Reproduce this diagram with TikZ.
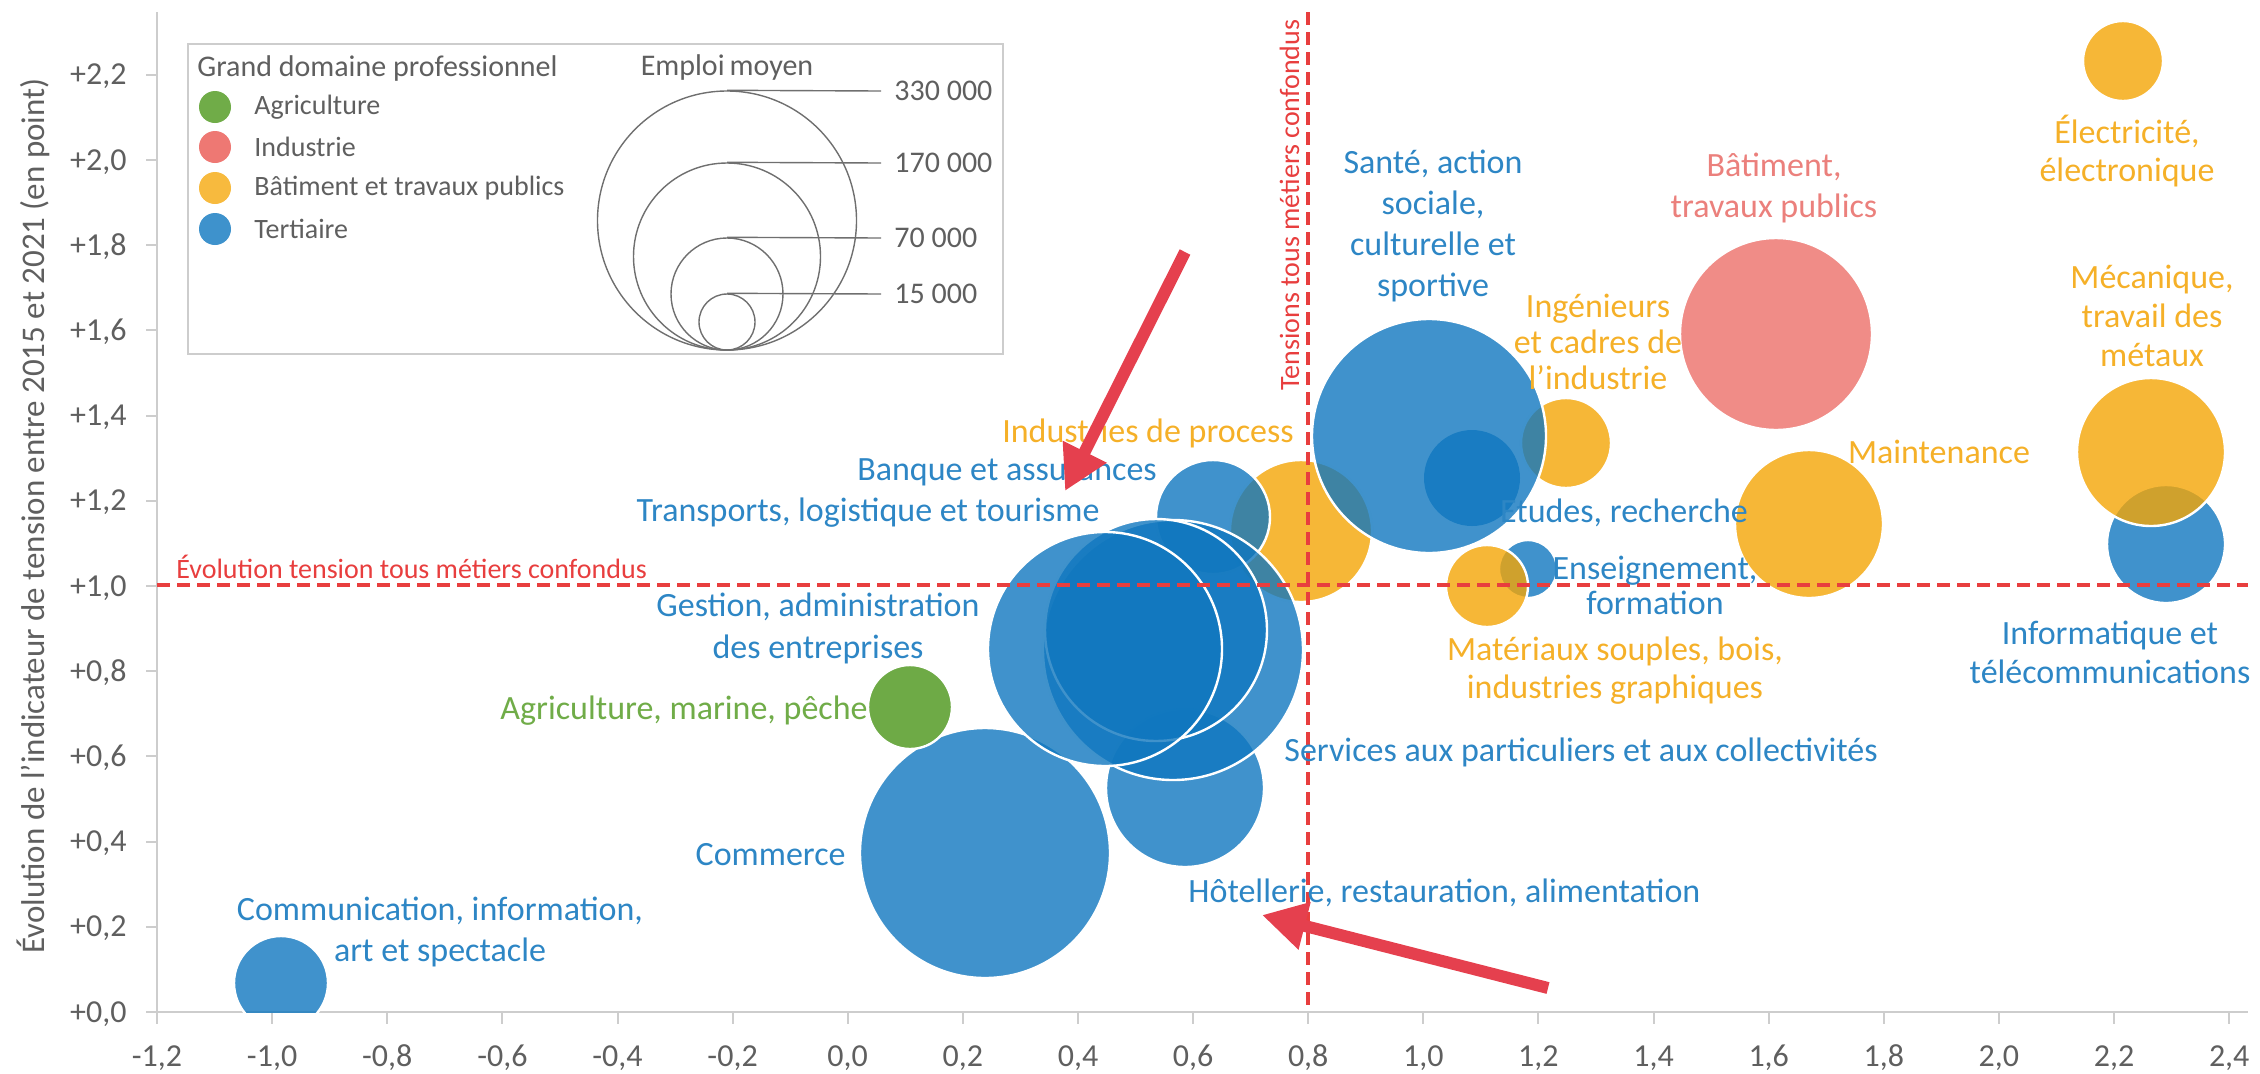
\documentclass[tikz,border=0pt]{standalone}
\usepackage{fontspec}
\setmainfont{Carlito}
\usetikzlibrary{arrows.meta}
\definecolor{cblue}{RGB}{16,119,191}
\definecolor{cyel}{RGB}{244,165,5}
\definecolor{cred}{RGB}{236,111,105}
\definecolor{cgreen}{RGB}{74,149,24}
\definecolor{tblue}{RGB}{45,134,197}
\definecolor{tyel}{RGB}{245,176,40}
\definecolor{tred}{RGB}{235,128,124}
\definecolor{tgreen}{RGB}{112,172,72}
\definecolor{tgrey}{RGB}{95,95,95}
\definecolor{dashred}{RGB}{232,62,62}
\definecolor{arrred}{RGB}{229,64,78}
\definecolor{axgrey}{RGB}{205,205,205}
\definecolor{lgreen}{RGB}{112,172,72}
\definecolor{lred}{RGB}{238,120,115}
\definecolor{lyel}{RGB}{247,186,62}
\definecolor{lblue}{RGB}{62,146,204}
\begin{document}
\begin{tikzpicture}[x=0.5pt,y=-0.5pt,
  bub/.style={circle, inner sep=0pt, draw=white, line width=1.2pt, fill opacity=0.8},
  bb/.style={bub, fill=cblue},
  by/.style={bub, fill=cyel},
  br/.style={bub, fill=cred},
  bg/.style={bub, fill=cgreen},
  lab/.style={inner sep=0pt, align=center, font=\fontsize{17}{#1}\selectfont},
  lab/.default={20.5},
  ticklab/.style={inner sep=0pt, text=tgrey, font=\fontsize{16}{19}\selectfont},
  legtxt/.style={inner sep=0pt, text=tgrey, font=\fontsize{14}{17}\selectfont, anchor=west},
  legdot/.style={circle, inner sep=0pt, minimum size=16pt},
  sizecirc/.style={circle, inner sep=0pt, draw=tgrey!90, line width=0.7pt},
  axisline/.style={draw=axgrey, line width=1pt},
  refline/.style={draw=dashred, line width=2pt, dash pattern=on 6.5pt off 3.5pt},
  reflab/.style={inner sep=0pt, text=dashred, font=\fontsize{14}{17}\selectfont},
  annot/.style={draw=arrred, line width=6pt, -{Triangle[length=22pt,width=23pt]}}
]
\useasboundingbox (0,0) rectangle (2260,1073);

% ---------- axes ----------
\coordinate (origin) at (157,1012);
\coordinate (ytop) at (157,12);
\coordinate (xend) at (2248,1012);
\draw[axisline] (ytop) -- (origin) -- (xend);
\foreach \yy/\t in {1012/{+0,0},926.8/{+0,2},841.6/{+0,4},756.4/{+0,6},671.2/{+0,8},586/{+1,0},500.8/{+1,2},415.6/{+1,4},330.4/{+1,6},245.2/{+1,8},160/{+2,0},74.8/{+2,2}}{
  \draw[axisline] (146,\yy) -- (157,\yy);
  \node[ticklab, anchor=base east] at (127,\yy+10) {\t};
}
\foreach \xx/\t in {157/{-1,2},272.1/{-1,0},387.2/{-0,8},502.4/{-0,6},617.5/{-0,4},732.6/{-0,2},847.7/{0,0},962.8/{0,2},1078/{0,4},1193.1/{0,6},1308.2/{0,8},1423.3/{1,0},1538.4/{1,2},1653.6/{1,4},1768.7/{1,6},1883.8/{1,8},1998.9/{2,0},2114/{2,2},2229.2/{2,4}}{
  \draw[axisline] (\xx,1012) -- (\xx,1024);
  \node[ticklab, anchor=base] at (\xx,1066) {\t};
}
\node[inner sep=0pt, text=tgrey, rotate=90, font=\fontsize{16.5}{19}\selectfont] (ytitle) at (33,516)
  {Évolution de l'indicateur de tension entre 2015 et 2021 (en point)};

% ---------- bubbles ----------
\begin{scope}
\clip (157,0) rectangle (2260,1012);
\node[bb, minimum size=47pt]  (bcomm) at (281,983) {};
\node[bb, minimum size=125pt] (bcommerce) at (985,853) {};
\node[bg, minimum size=42pt]  (bagri) at (910,707) {};
\node[bb, minimum size=79pt]  (bhot) at (1185,788) {};
\node[by, minimum size=71pt]  (bindus) at (1301,531) {};
\node[bb, minimum size=57pt]  (bbanq) at (1213,517) {};
\node[bb, minimum size=130pt] (bserv) at (1173,650) {};
\node[bb, minimum size=111pt] (btrans) at (1156,630) {};
\node[bb, minimum size=117pt] (bgest) at (1105,649) {};
\node[by, minimum size=45pt]  (bing) at (1566,443) {};
\node[bb, minimum size=117pt] (bsante) at (1429,436) {};
\node[bb, minimum size=48pt, draw=none]  (betud) at (1472,478) {};
\node[bb, minimum size=29pt]  (bens) at (1528,569) {};
\node[by, minimum size=41pt]  (bmat) at (1487,586) {};
\node[br, minimum size=96pt]  (bbat) at (1776,334) {};
\node[by, minimum size=74pt]  (bmaint) at (1809,524) {};
\node[by, minimum size=40pt]  (belec) at (2123,61) {};
\node[bb, minimum size=59pt]  (binfo) at (2166,544) {};
\node[by, minimum size=74pt]  (bmeca) at (2151,452) {};
\end{scope}

% ---------- reference lines ----------
\coordinate (hl1) at (157,585);
\coordinate (hl2) at (2248,585);
\coordinate (vl1) at (1308.2,12);
\coordinate (vl2) at (1308.2,1012);
\draw[refline] (hl1) -- (hl2);
\draw[refline] (vl1) -- (vl2);
\node[reflab, anchor=base west] (hlab) at (176,578) {Évolution tension tous métiers confondus};
\node[reflab, rotate=90, anchor=base] (vlab) at (1299,205) {Tensions tous métiers confondus};

% ---------- labels ----------
\node[lab, text=tblue] (lcomm) at (440,932) {Communication, information,\\art et spectacle};
\node[lab, text=tgreen, anchor=east] (lagri) at (868,711) {Agriculture, marine, pêche};
\node[lab={21}, text=tblue] (lgest) at (818,628) {Gestion, administration\\des entreprises};
\node[lab, text=tblue, anchor=east] (ltrans) at (1100,513) {Transports, logistique et tourisme};
\node[lab, text=tblue] (lbanq) at (1007,472) {Banque et assurances};
\node[lab, text=tyel] (lindus) at (1148,433) {Industries de process};
\node[lab, text=tblue] (lsante) at (1433,226) {Santé, action\\sociale,\\culturelle et\\sportive};
\node[lab={18}, text=tyel] (ling) at (1598,342) {Ingénieurs\\et cadres de\\l'industrie};
\node[lab, text=tred] (lbat) at (1774,188) {Bâtiment,\\travaux publics};
\node[lab={19}, text=tyel] (lelec) at (2127,151) {Électricité,\\électronique};
\node[lab={19.5}, text=tyel] (lmeca) at (2152,316) {Mécanique,\\travail des\\métaux};
\node[lab, text=tyel] (lmaint) at (1939,452) {Maintenance};
\node[lab, text=tblue] (letud) at (1624,513) {Etudes, recherche};
\node[lab={17.5}, text=tblue] (lens) at (1655,585) {Enseignement,\\formation};
\node[lab={19}, text=tyel] (lmat) at (1615,671) {Matériaux souples, bois,\\industries graphiques};
\node[lab={19.5}, text=tblue] (linfo) at (2110,652) {Informatique et\\télécommunications};
\node[lab, text=tblue, anchor=west] (lserv) at (1284,752) {Services aux particuliers et aux collectivités};
\node[lab, text=tblue, anchor=west] (lhot) at (1188,893) {Hôtellerie, restauration, alimentation};
\node[lab, text=tblue, anchor=east] (lcommerce) at (846,855) {Commerce};

% ---------- legend ----------
\node[draw=axgrey, line width=0.8pt, inner sep=0pt, minimum width=407.5pt, minimum height=155pt, anchor=north west] (legbox) at (187,43) {};
\node[inner sep=0pt, text=tgrey, font=\fontsize{15}{18}\selectfont, anchor=west] (legtitle) at (197,68) {Grand domaine professionnel};
\node[legdot, fill=lgreen] (dagri) at (215,107) {};
\node[legdot, fill=lred] (dind) at (215,147) {};
\node[legdot, fill=lyel] (dbtp) at (215,188) {};
\node[legdot, fill=lblue] (dter) at (215,229) {};
\node[legtxt] (tagri) at (254,107) {Agriculture};
\node[legtxt] (tind) at (254,147) {Industrie};
\node[legtxt] (tbtp) at (254,188) {Bâtiment et travaux publics};
\node[legtxt] (tter) at (254,229) {Tertiaire};
\node[inner sep=0pt, text=tgrey, font=\fontsize{15}{18}\selectfont] (legsize) at (727,67) {Emploi\,moyen};
\node[sizecirc, minimum size=129.5pt] (s330) at (727,220.5) {};
\node[sizecirc, minimum size=93.5pt] (s170) at (727,256.5) {};
\node[sizecirc, minimum size=56pt] (s70) at (727,294) {};
\node[sizecirc, minimum size=28pt] (s15) at (727,322) {};
\coordinate (e330) at (881,91);
\coordinate (e170) at (881,163);
\coordinate (e70) at (881,238);
\coordinate (e15) at (881,294);
\draw[draw=tgrey!90, line width=0.7pt] (s330.north) -- (e330);
\draw[draw=tgrey!90, line width=0.7pt] (s170.north) -- (e170);
\draw[draw=tgrey!90, line width=0.7pt] (s70.north) -- (e70);
\draw[draw=tgrey!90, line width=0.7pt] (s15.north) -- (e15);
\node[legtxt, font=\fontsize{15}{18}\selectfont] (v330) at (894,91) {330 000};
\node[legtxt, font=\fontsize{15}{18}\selectfont] (v170) at (894,163) {170 000};
\node[legtxt, font=\fontsize{15}{18}\selectfont] (v70) at (894,238) {70 000};
\node[legtxt, font=\fontsize{15}{18}\selectfont] (v15) at (894,294) {15 000};

% ---------- annotation arrows ----------
\coordinate (a1s) at (1185,252);
\coordinate (a1e) at (1065,491);
\coordinate (a2s) at (1548,988);
\coordinate (a2e) at (1262,915);
\draw[annot] (a1s) -- (a1e);
\draw[annot] (a2s) -- (a2e);
\end{tikzpicture}
\end{document}
